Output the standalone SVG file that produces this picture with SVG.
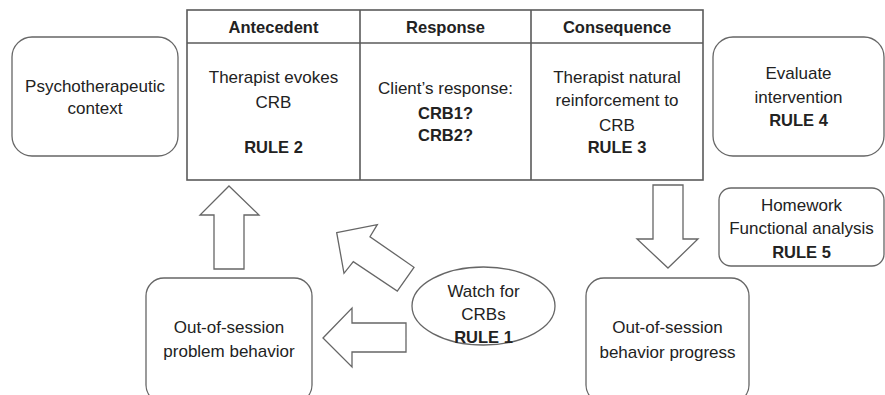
<svg xmlns="http://www.w3.org/2000/svg" width="885" height="395" viewBox="0 0 885 395">
<style>
text{font-family:"Liberation Sans",Arial,sans-serif;font-size:17px;fill:#222;text-anchor:middle}
.b{font-weight:bold;font-size:16.5px}
.box{fill:#fff;stroke:#666;stroke-width:1.3}
.tbl{fill:#fff;stroke:#5a5a5a;stroke-width:1.6}
.arr{fill:#fff;stroke:#666;stroke-width:1.3;stroke-linejoin:miter}
</style>
<rect width="885" height="395" fill="#fff"/>
<g id="psychotherapeutic-context">
<rect class="box" x="12" y="37" width="166" height="119" rx="20"/>
<text x="95" y="92">Psychotherapeutic</text>
<text x="95" y="114">context</text>
</g>
<g id="abc-table">
<rect class="tbl" x="187" y="10" width="516" height="170"/>
<line class="tbl" x1="187" y1="43" x2="703" y2="43"/>
<line class="tbl" x1="360" y1="10" x2="360" y2="180"/>
<line class="tbl" x1="531" y1="10" x2="531" y2="180"/>
<text class="b" x="273.5" y="33">Antecedent</text>
<text class="b" x="445.5" y="33">Response</text>
<text class="b" x="617" y="33">Consequence</text>
<text x="273.5" y="83">Therapist evokes</text>
<text x="273.5" y="108">CRB</text>
<text class="b" x="273.5" y="153">RULE 2</text>
<text x="445.5" y="94">Client’s response:</text>
<text class="b" x="445.5" y="119">CRB1?</text>
<text class="b" x="445.5" y="141">CRB2?</text>
<text x="617" y="83">Therapist natural</text>
<text x="617" y="106">reinforcement to</text>
<text x="617" y="131">CRB</text>
<text class="b" x="617" y="153">RULE 3</text>
</g>
<g id="evaluate-intervention">
<rect class="box" x="713" y="37" width="171" height="119" rx="20"/>
<text x="798.5" y="79">Evaluate</text>
<text x="798.5" y="103">intervention</text>
<text class="b" x="798.5" y="126">RULE 4</text>
</g>
<g id="homework">
<rect class="box" x="719" y="188" width="165" height="78" rx="12"/>
<text x="801.5" y="211">Homework</text>
<text x="801.5" y="234">Functional analysis</text>
<text class="b" x="801.5" y="258">RULE 5</text>
</g>
<g id="out-of-session-progress">
<rect class="box" x="586" y="278" width="163" height="125" rx="18"/>
<text x="667.5" y="333">Out-of-session</text>
<text x="667.5" y="358">behavior progress</text>
</g>
<g id="out-of-session-problem">
<rect class="box" x="146" y="278" width="166" height="125" rx="18"/>
<text x="229" y="333">Out-of-session</text>
<text x="229" y="357">problem behavior</text>
</g>
<g id="watch-for-crbs">
<ellipse class="box" cx="483.5" cy="306" rx="71.5" ry="39"/>
<text x="483.5" y="297">Watch for</text>
<text x="483.5" y="320">CRBs</text>
<text class="b" x="483.5" y="343">RULE 1</text>
</g>
<g id="connectors">
<polygon class="arr" points="229,186 259,215 244,215 244,269 214,269 214,215 200,215"/>
<polygon class="arr" points="336.7,232.7 377.3,224.7 370,236.7 414,267.3 397.3,291 353.3,261.7 344,273.3"/>
<polygon class="arr" points="323,338 352,308 352,323 406,323 406,352 352,352 352,367"/>
<polygon class="arr" points="668,268 698,239 683,239 683,185 653,185 653,239 637,239"/>
</g>
</svg>
